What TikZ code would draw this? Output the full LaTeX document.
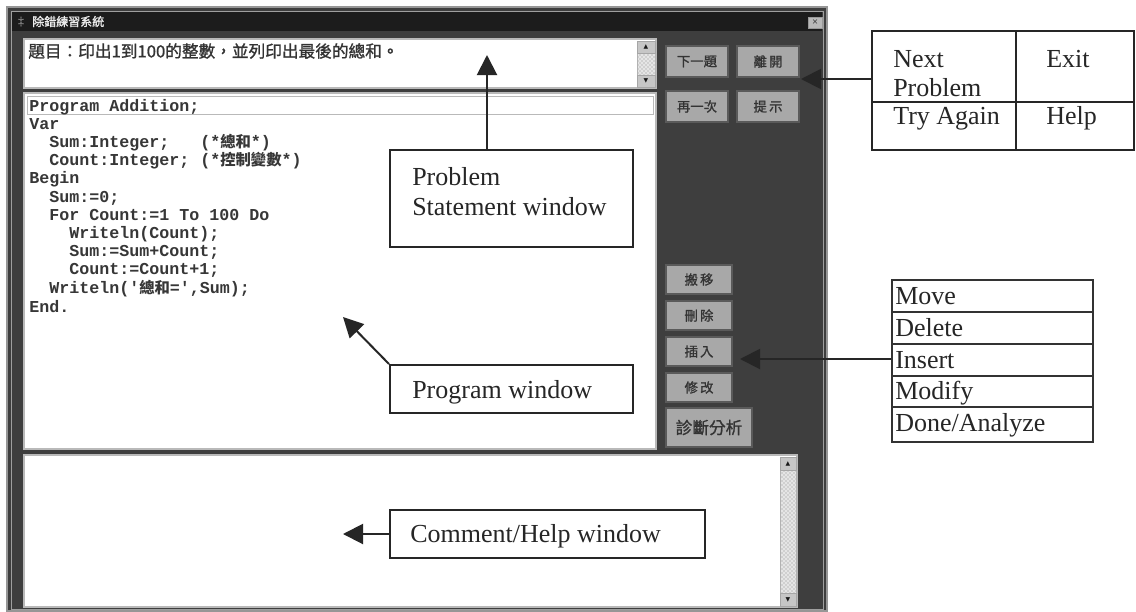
\documentclass[tikz,border=0pt]{standalone}
\usepackage{fontspec}
\setmainfont{Liberation Serif}
\setmonofont{Liberation Mono}
\newfontfamily\cjk{Noto Sans CJK TC}
\newfontfamily\cjkb[FakeBold=1.2]{Noto Sans CJK TC}
\newfontfamily\symfnt{DejaVu Sans}
\usetikzlibrary{arrows.meta,patterns,fit}
\definecolor{winbg}{RGB}{62,62,62}
\definecolor{titlebg}{RGB}{28,28,28}
\definecolor{btnfill}{RGB}{168,168,168}
\definecolor{btnedge}{RGB}{90,90,90}
\definecolor{codecol}{RGB}{55,55,55}
\definecolor{frameline}{RGB}{150,150,150}
\begin{document}
\begin{tikzpicture}[x=0.75pt,y=-0.75pt,
  panel/.style={inner sep=0pt, fill=white, draw=gray!55, line width=1pt},
  btn/.style={inner sep=0pt, fill=btnfill, draw=btnedge, line width=1pt},
  btnlbl/.style={inner sep=0pt, text=black!80, font=\cjkb\fontsize{10}{10}\selectfont},
  codeline/.style={anchor=base west, inner sep=0pt, text=codecol, font=\ttfamily\bfseries\fontsize{12.5}{12.5}\selectfont},
  annbox/.style={inner sep=0pt, draw=black!85, line width=1.5pt, fill=white},
  anntext/.style={anchor=base west, inner sep=0pt, text=black!85, font=\fontsize{19.5}{20}\selectfont},
  cellbox/.style={inner sep=0pt, draw=black!85, line width=1.5pt},
  cellthin/.style={inner sep=0pt, draw=black!80, line width=1pt},
  arr/.style={line width=1.5pt, draw=black!85, -{Triangle[length=15pt,width=15pt]}},
  sbtrack/.style={inner sep=0pt, draw=gray!60, line width=0.6pt, preaction={fill=gray!20}, pattern=crosshatch dots, pattern color=gray!90},
  sbbtn/.style={inner sep=0pt, draw=gray!70, line width=0.6pt, fill=gray!45},
  sbsym/.style={inner sep=0pt, text=gray!20!black, font=\symfnt\fontsize{4.5}{4.5}\selectfont}
]
\useasboundingbox (0,0) rectangle (1136,611);
\fill[white] (0,0) rectangle (1136,611);

% ---------- application window ----------
\node[fit={(7,7)(827,611)}, inner sep=0pt, fill=winbg, draw=frameline, line width=1.5pt] (win) {};
\draw[gray!75, line width=0.6pt] (11,11) rectangle (823,609);
\node[fit={(12,12)(822,31)}, inner sep=0pt, fill=titlebg] (title) {};
\node[text=gray!60, font=\fontsize{9}{9}\selectfont, inner sep=0pt] (ticon) at (21,22) {‡};
\node[anchor=west, inner sep=0pt, text=white!85!gray, font=\cjkb\fontsize{9}{9}\selectfont] (ttext) at (32,21.5) {除錯練習系統};
\node[fit={(808,17)(822,28)}, inner sep=0pt, fill=gray!55, draw=gray!80, line width=0.6pt] (close) {};
\node[inner sep=0pt, text=gray!20!black, font=\fontsize{8}{8}\selectfont] (closex) at (close) {×};

% problem statement window
\node[fit={(24,39)(656,88)}, panel] (probwin) {};
\node[anchor=west, inner sep=0pt, text=black!80, font=\cjkb\fontsize{12.5}{12.5}\selectfont] (probtext) at (28,51) {題目：印出1到100的整數，並列印出最後的總和。};
\node[fit={(637,41)(655,87)}, sbtrack] (sb1) {};
\node[fit={(637,41)(655,53)}, sbbtn, label={[sbsym]center:▲}] (sb1up) {};
\node[fit={(637,75)(655,87)}, sbbtn, label={[sbsym]center:▼}] (sb1dn) {};

% program window
\node[fit={(24,93)(656,449)}, panel] (progwin) {};
\draw[gray!55, line width=0.6pt] (27,96) rectangle (653,114);
\node[codeline] (c1) at (29,111) {Program Addition;};
\node[codeline] (c2) at (29,129.2) {Var};
\node[codeline] (c3) at (49,147.4) {Sum:Integer;};
\node[codeline] (c3b) at (200,147.4) {(*{\cjk\fontsize{11.5}{11.5}\selectfont 總和}*)};
\node[codeline] (c4) at (49,165.6) {Count:Integer;};
\node[codeline] (c4b) at (200,165.6) {(*{\cjk\fontsize{11.5}{11.5}\selectfont 控制變數}*)};
\node[codeline] (c5) at (29,183.8) {Begin};
\node[codeline] (c6) at (49,202) {Sum:=0;};
\node[codeline] (c7) at (49,220.2) {For Count:=1 To 100 Do};
\node[codeline] (c8) at (69,238.4) {Writeln(Count);};
\node[codeline] (c9) at (69,256.6) {Sum:=Sum+Count;};
\node[codeline] (c10) at (69,274.8) {Count:=Count+1;};
\node[codeline] (c11) at (49,293) {Writeln('{\cjk\fontsize{11.5}{11.5}\selectfont 總和}=',Sum);};
\node[codeline] (c12) at (29,312) {End.};

% buttons
\node[btn, fit={(666,46)(728,77)}, label={[btnlbl]center:下一題}] (bnext) {};
\node[btn, fit={(737,46)(799,77)}, label={[btnlbl]center:離\,開}] (bexit) {};
\node[btn, fit={(666,91)(728,122)}, label={[btnlbl]center:再一次}] (bagain) {};
\node[btn, fit={(737,91)(799,122)}, label={[btnlbl]center:提\,示}] (bhelp) {};
\node[btn, fit={(666,265)(732,294)}, label={[btnlbl]center:搬\,移}] (bmove) {};
\node[btn, fit={(666,301)(732,330)}, label={[btnlbl]center:刪\,除}] (bdel) {};
\node[btn, fit={(666,337)(732,366)}, label={[btnlbl]center:插\,入}] (bins) {};
\node[btn, fit={(666,373)(732,402)}, label={[btnlbl]center:修\,改}] (bmod) {};
\node[btn, fit={(666,408)(752,447)}, label={[btnlbl, font=\cjkb\fontsize{12.5}{12.5}\selectfont]center:診斷分析}] (bdiag) {};

% comment/help window
\node[fit={(24,455)(797,607)}, panel] (comwin) {};
\node[fit={(780,457)(796,606)}, sbtrack] (sb2) {};
\node[fit={(780,457)(796,470)}, sbbtn, label={[sbsym]center:▲}] (sb2up) {};
\node[fit={(780,593)(796,606)}, sbbtn, label={[sbsym]center:▼}] (sb2dn) {};

% ---------- annotations inside ----------
\node[annbox, fit={(390,150)(633,247)}] (psbox) {};
\node[anntext] (pstext1) at (412,185) {Problem};
\node[anntext] (pstext2) at (412,215) {Statement window};
\coordinate (psTip) at (487,55);
\draw[arr] (psbox.north -| psTip) -- (psTip);

\node[annbox, fit={(390,365)(633,413)}] (pwbox) {};
\node[anntext] (pwtext) at (412,398) {Program window};
\coordinate (pwTip) at (343,317);
\draw[arr] (pwbox.north west) -- (pwTip);

\node[annbox, fit={(390,510)(705,558)}] (chbox) {};
\node[anntext] (chtext) at (410,542) {Comment/Help window};
\coordinate (chTip) at (343,534);
\draw[arr] (chbox.west) -- (chTip);

% ---------- table 1 ----------
\node[cellbox, fit={(872,31)(1016,102)}] (tnext) {};
\node[cellbox, fit={(1016,31)(1134,102)}] (texit) {};
\node[cellbox, fit={(872,102)(1016,150)}] (tagain) {};
\node[cellbox, fit={(1016,102)(1134,150)}] (thelp) {};
\node[anntext] (lnext) at (893,67) {Next};
\node[anntext] (lprob) at (893,96) {Problem};
\node[anntext] (lexit) at (1046,67) {Exit};
\node[anntext] (lagain) at (893,124) {Try Again};
\node[anntext] (lhelp) at (1046,124) {Help};
\coordinate (t1Tip) at (801,79);
\draw[arr] (tnext.west |- t1Tip) -- (t1Tip);

% ---------- table 2 ----------
\node[cellthin, fit={(892,280)(1093,312)}] (tmove) {};
\node[cellthin, fit={(892,312)(1093,344)}] (tdel) {};
\node[cellthin, fit={(892,344)(1093,376)}] (tins) {};
\node[cellthin, fit={(892,376)(1093,407)}] (tmod) {};
\node[cellthin, fit={(892,407)(1093,442)}] (tdone) {};
\node[anntext] (lmove) at (895,304) {Move};
\node[anntext] (ldel) at (895,336) {Delete};
\node[anntext] (lins) at (895,368) {Insert};
\node[anntext] (lmod) at (895,399) {Modify};
\node[anntext] (ldone) at (895,431) {Done/Analyze};
\coordinate (t2Tip) at (740,359);
\draw[arr] (tins.west |- t2Tip) -- (t2Tip);
\end{tikzpicture}
\end{document}
